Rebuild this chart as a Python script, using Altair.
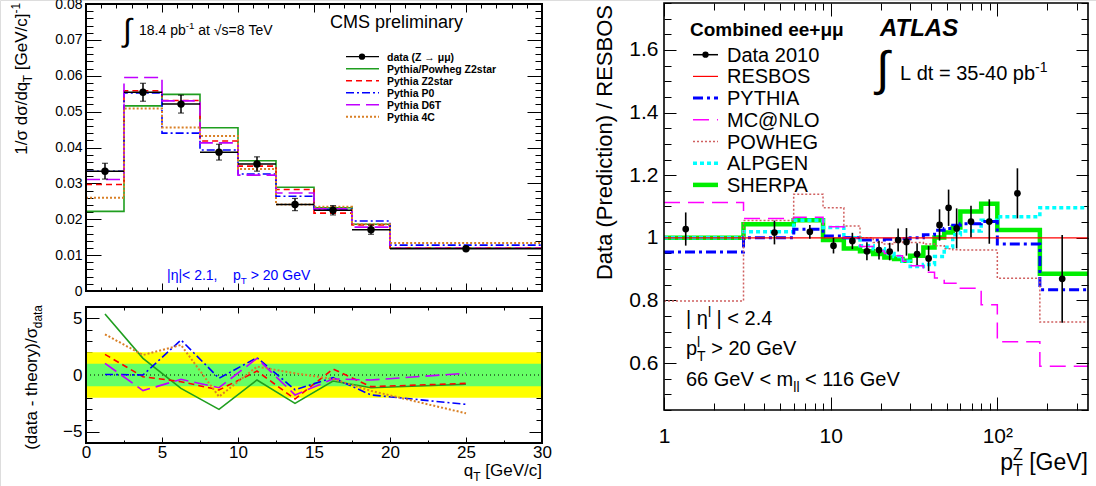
import altair as alt
import pandas as pd

FONT = "Liberation Sans"

# ---------------- CMS (left panels) ----------------
cms_edges = [0, 2.5, 5, 7.5, 10, 12.5, 15, 17.5, 20, 30]
cms_centers = [1.25, 3.75, 6.25, 8.75, 11.25, 13.75, 16.25, 18.75, 25]
cms_data = [0.0334, 0.0554, 0.0521, 0.0387, 0.0354, 0.0241, 0.0225, 0.0171, 0.0118]
cms_err = [0.0022, 0.0025, 0.0025, 0.0022, 0.0020, 0.0017, 0.0013, 0.0013, 0.0004]
cms_powheg_z2 = [0.0222, 0.0516, 0.0548, 0.0455, 0.0363, 0.0289, 0.0232, 0.0186, 0.0120]
cms_z2star = [0.0297, 0.0558, 0.0531, 0.0418, 0.0348, 0.0283, 0.0217, 0.0184, 0.0120]
cms_p0 = [0.0334, 0.0552, 0.0440, 0.0393, 0.0326, 0.0264, 0.0228, 0.0195, 0.0128]
cms_d6t = [0.0311, 0.0595, 0.0530, 0.0413, 0.0323, 0.0273, 0.0229, 0.0178, 0.0119]
cms_4c = [0.0260, 0.0509, 0.0456, 0.0432, 0.0340, 0.0241, 0.0235, 0.0186, 0.0134]

res_powheg_z2 = [5.38, 1.47, -1.18, -3.03, -0.44, -2.50, -0.53, -1.12, -0.82]
res_z2star = [1.82, -0.15, -0.59, -1.32, 0.35, -2.12, 0.53, -1.03, -0.74]
res_p0 = [0.05, 0.0, 3.09, -0.29, 1.53, -1.30, -0.24, -1.76, -2.59]
res_d6t = [1.03, -1.38, -0.38, -1.12, 1.47, -1.76, -0.35, -0.44, 0.15]
res_4c = [3.59, 1.76, 2.65, -1.91, 0.74, 0.15, -0.35, -1.40, -3.38]
band_lo = [-2, -1]
band_hi = [2, 1]

cms_labels = ["data (Z \u2192 \u03bc\u03bc)", "Pythia/Powheg Z2star", "Pythia Z2star",
              "Pythia P0", "Pythia D6T", "Pythia 4C"]

# ---------------- ATLAS (right panel) ----------------
atlas_edges = [1, 3, 6, 9, 12, 15, 18, 21, 24, 27, 30, 36, 42, 48, 54, 60, 80, 100, 180, 350]
atlas_x = [1.35, 4.6, 7.5, 10.4, 13.5, 16.5, 19.5, 22.6, 25.4, 28.5, 33.0, 38.7, 45.0,
           51.0, 57.0, 69.5, 89.5, 132.0, 245.0]
atlas_ratio = [1.028, 1.017, 1.019, 0.975, 0.990, 0.957, 0.961, 0.956, 0.993, 0.987, 0.948,
               0.934, 1.041, 1.096, 1.030, 1.052, 1.052, 1.142, 0.869]
atlas_err = [0.053, 0.038, 0.022, 0.025, 0.026, 0.029, 0.030, 0.028, 0.037, 0.044, 0.035,
             0.040, 0.050, 0.058, 0.064, 0.050, 0.071, 0.080, 0.140]
resbos = [1.0, 1.0, 1.0, 1.0, 1.0, 1.0, 1.0, 1.0, 1.0, 1.0, 1.0, 1.0, 1.0, 1.0, 1.0, 1.0, 1.0, 1.0, 1.0]
pythia = [0.955, 1.0, 1.027, 1.006, 1.0, 0.993, 0.993, 0.995, 0.995, 0.997, 1.0, 1.01, 1.024,
          1.03, 1.04, 1.045, 1.052, 0.98, 0.834]
mcnlo = [1.113, 1.062, 1.066, 1.035, 1.0, 0.972, 0.958, 0.95, 0.943, 0.925, 0.911, 0.89, 0.872,
         0.855, 0.855, 0.839, 0.786, 0.668, 0.59]
powheg = [0.798, 1.055, 1.139, 1.096, 1.038, 1.0, 0.985, 0.98, 0.985, 0.99, 0.985, 0.98, 0.975,
          0.965, 0.962, 0.961, 0.961, 0.871, 0.731]
alpgen = [1.0, 1.019, 1.056, 1.033, 1.0, 0.975, 0.965, 0.95, 0.94, 0.925, 0.908, 0.915, 0.94,
          0.97, 1.01, 1.022, 1.056, 1.067, 1.096]
sherpa = [1.0, 1.043, 1.056, 0.993, 0.966, 0.957, 0.948, 0.937, 0.932, 0.927, 0.943, 0.969,
          1.001, 1.017, 1.033, 1.084, 1.109, 1.025, 0.885]
atlas_labels = ["Data 2010", "RESBOS", "PYTHIA", "MC@NLO", "POWHEG", "ALPGEN", "SHERPA"]

# ---------------- canvas / panel geometry (pixels) ----------------
CWID, CHGT = 1096, 486
TL = (86, 542, 4, 291)     # x0, x1, y0, y1 of the upper CMS plot area
BL = (86, 542, 307, 443)   # lower CMS ratio plot area
RP = (664, 1088, 3, 410)   # ATLAS plot area
NB = "\u00a0"
ONE = pd.DataFrame({"k": [0]})

# approximate Arial / Liberation Sans advance widths (em)
CW = {" ": .278, NB: .278, "!": .278, "(": .333, ")": .333, "+": .584, ",": .278, "-": .333,
      ".": .278, "/": .278, "<": .584, "=": .584, ">": .584, "@": 1.015, "[": .278, "]": .278,
      "|": .26, "A": .667, "B": .667, "C": .722, "D": .722, "E": .667, "G": .778, "H": .722,
      "I": .278, "L": .556, "M": .833, "N": .722, "O": .778, "P": .667, "R": .722, "S": .667,
      "T": .611, "V": .667, "Y": .667, "Z": .611, "a": .556, "b": .556, "c": .5, "d": .556,
      "e": .556, "f": .278, "g": .556, "h": .556, "i": .222, "l": .222, "m": .833, "n": .556,
      "o": .556, "p": .556, "q": .556, "r": .333, "s": .5, "t": .278, "u": .556, "v": .5,
      "y": .5, "\u03c3": .6, "\u03b7": .556, "\u03bc": .576, "\u221a": .55, "\u2192": 1.0}


def tw(s, size, bold=False):
    w = sum(CW.get(ch, 0.556) for ch in s) * size
    return w * 1.08 if bold else w


def text_layer(txt, x, y, size, color="black", weight="normal", style="normal",
               dx=0.0, dy=0.0, angle=0, align="left"):
    kw = dict(text=txt, fontSize=size, color=color, fontWeight=weight, fontStyle=style,
              dx=dx, dy=dy, align=align, baseline="alphabetic", font=FONT)
    if angle:
        kw["angle"] = angle
    return alt.Chart(ONE).mark_text(**kw).encode(x=alt.value(x), y=alt.value(y))


def rich(pieces, x, y, size, align="left", angle=0, color="black", weight="normal"):
    """Text pieces with super/subscripts; leading blanks become offsets."""
    small = size * 0.7
    bold = weight == "bold"
    items, adv = [], 0.0
    for txt, kind in pieces:
        if kind == "ss":
            sp, sb = txt
            items.append((sp, adv, -0.42 * size, small))
            items.append((sb, adv, 0.28 * size, small))
            adv += max(tw(sp, small, bold), tw(sb, small, bold))
            continue
        fs = size if kind == "n" else small
        shift = 0.0 if kind == "n" else (-0.42 * size if kind == "sup" else 0.28 * size)
        stripped = txt.lstrip(" ")
        adv += tw(" " * (len(txt) - len(stripped)), fs, bold)
        t = stripped.replace(" ", NB)
        items.append((t, adv, shift, fs))
        adv += tw(t, fs, bold)
    off = -adv if align == "right" else 0.0
    return [text_layer(t, x, y, s, color=color, weight=weight, dx=a + off, dy=d, angle=angle)
            for (t, a, d, s) in items]


# ---- axes placed at absolute pixel edges through their offsets ----
def _axis(orient, offset, **kw):
    base = dict(orient=orient, offset=offset, domain=False, grid=False, title=None,
                minExtent=0)
    base.update(kw)
    return alt.Axis(**base)


def lab_axis(orient, edge, values, size, pad, expr=None):
    off = -edge if orient == "left" else edge - CHGT
    kw = dict(values=values, ticks=False, labels=True, labelFontSize=size, labelPadding=pad,
              labelColor="black", labelFont=FONT, labelOverlap=False, labelFlush=False)
    if expr:
        kw["labelExpr"] = expr
    return _axis(orient, off, **kw)


def blank_axis(orient):
    return _axis(orient, 0, ticks=False, labels=False, maxExtent=0)


def in_ticks(edge_name, edge, values, size):
    # axis drawn on the opposite orientation so that its ticks point into the plot
    orient, off = {"left": ("right", edge - CWID), "right": ("left", -edge),
                   "top": ("bottom", edge - CHGT), "bottom": ("top", -edge)}[edge_name]
    return _axis(orient, off, values=values, labels=False, ticks=True, tickSize=size,
                 tickColor="black", tickWidth=1, maxExtent=0)


def axis_layer(xs, ys, xv, yv, xaxis, yaxis):
    d = pd.DataFrame({"ax": [xv], "ay": [yv]})
    return alt.Chart(d).mark_point(opacity=0).encode(
        x=alt.X("ax:Q", scale=xs, axis=xaxis), y=alt.Y("ay:Q", scale=ys, axis=yaxis))


def frame_layers(xs, ys, xv, yv, box, xmaj, xmin, ymaj, ymin, txm, txn, tym, tyn, xdom, ydom, sw):
    x0, x1, y0, y1 = box
    fr = pd.DataFrame({"a": [xdom[0]], "b": [xdom[1]], "c": [ydom[0]], "d": [ydom[1]]})
    return [
        axis_layer(xs, ys, xv, yv, in_ticks("bottom", y1, xmaj, txm), in_ticks("left", x0, ymaj, tym)),
        axis_layer(xs, ys, xv, yv, in_ticks("bottom", y1, xmin, txn), in_ticks("left", x0, ymin, tyn)),
        axis_layer(xs, ys, xv, yv, in_ticks("top", y0, xmaj, txm), in_ticks("right", x1, ymaj, tym)),
        axis_layer(xs, ys, xv, yv, in_ticks("top", y0, xmin, txn), in_ticks("right", x1, ymin, tyn)),
        alt.Chart(fr).mark_rect(fillOpacity=0, stroke="black", strokeWidth=sw).encode(
            x=alt.X("a:Q", scale=xs, axis=None), x2="b:Q",
            y=alt.Y("c:Q", scale=ys, axis=None), y2="d:Q"),
    ]


def step_line(edges, vals, xs, ys, color, width, dash=None):
    df = pd.DataFrame({"x": edges, "y": list(vals) + [vals[-1]]})
    kw = dict(interpolate="step-after", color=color, strokeWidth=width)
    if dash:
        kw["strokeDash"] = dash
    return alt.Chart(df).mark_line(**kw).encode(
        x=alt.X("x:Q", scale=xs, axis=None), y=alt.Y("y:Q", scale=ys, axis=None))


def swatch(x1, x2, y, color, width, dash=None):
    kw = dict(color=color, strokeWidth=width)
    if dash:
        kw["strokeDash"] = dash
    return alt.Chart(ONE).mark_rule(**kw).encode(x=alt.value(x1), x2=alt.value(x2), y=alt.value(y))


def dot(x, y, size):
    return alt.Chart(ONE).mark_point(filled=True, size=size, color="black", opacity=1,
                                     shape="circle").encode(x=alt.value(x), y=alt.value(y))


layers = []

# ================= UPPER CMS PANEL =================
xsL = alt.Scale(domain=[0, 30], range=[TL[0], TL[1]], nice=False, zero=False)
ysT = alt.Scale(domain=[0, 0.08], range=[TL[3], TL[2]], nice=False, zero=False)
ysB = alt.Scale(domain=[-6, 6], range=[BL[3], BL[2]], nice=False, zero=False)

xmaj = [0, 5, 10, 15, 20, 25, 30]
xmin1 = list(range(0, 31))
ymajT = [round(0.01 * i, 2) for i in range(9)]
yminT = [round(0.002 * i, 3) for i in range(41)]

layers.append(axis_layer(xsL, ysT, 15, 0.04, blank_axis("bottom"),
                         lab_axis("left", TL[0], ymajT, 14, 4,
                                  expr="datum.value == 0 ? '0' : format(datum.value, '.2f')")))

cms_series = [
    (cms_powheg_z2, res_powheg_z2, "#1f9e1f", 1.6, None),
    (cms_z2star, res_z2star, "#ff0000", 1.6, [6, 4]),
    (cms_p0, res_p0, "#0000ff", 1.6, [8, 3, 2, 3]),
    (cms_d6t, res_d6t, "#c000ff", 1.6, [14, 6]),
    (cms_4c, res_4c, "#d98026", 2.0, [2, 2]),
]
for vals, _, c, w, d in cms_series:
    layers.append(step_line(cms_edges, vals, xsL, ysT, c, w, d))

dfc = pd.DataFrame({"lo": cms_edges[:-1], "hi": cms_edges[1:], "c": cms_centers,
                    "y": cms_data,
                    "ylo": [v - e for v, e in zip(cms_data, cms_err)],
                    "yhi": [v + e for v, e in zip(cms_data, cms_err)]})
base_c = alt.Chart(dfc)
layers += [
    base_c.mark_rule(color="black", strokeWidth=1.5).encode(
        x=alt.X("lo:Q", scale=xsL, axis=None), x2="hi:Q", y=alt.Y("y:Q", scale=ysT, axis=None)),
    base_c.mark_rule(color="black", strokeWidth=1.5).encode(
        x=alt.X("c:Q", scale=xsL, axis=None), y=alt.Y("ylo:Q", scale=ysT, axis=None), y2="yhi:Q"),
    base_c.mark_tick(orient="horizontal", size=6, thickness=1.2, color="black").encode(
        x=alt.X("c:Q", scale=xsL, axis=None), y=alt.Y("ylo:Q", scale=ysT, axis=None)),
    base_c.mark_tick(orient="horizontal", size=6, thickness=1.2, color="black").encode(
        x=alt.X("c:Q", scale=xsL, axis=None), y=alt.Y("yhi:Q", scale=ysT, axis=None)),
    base_c.mark_point(filled=True, size=55, color="black", opacity=1, shape="circle").encode(
        x=alt.X("c:Q", scale=xsL, axis=None), y=alt.Y("y:Q", scale=ysT, axis=None)),
]
layers += frame_layers(xsL, ysT, 15, 0.04, TL, xmaj, xmin1, ymajT, yminT, 8, 4, 15, 7,
                       [0, 30], [0, 0.08], 2)

layers.append(text_layer("\u222b", 123, 41, 32))
layers += rich([("18.4 pb", "n"), ("-1", "sup"), (" at \u221as=8 TeV", "n")], 139, 35, 14)
layers.append(text_layer("CMS preliminary", 330, 28, 18))
layers += rich([("|\u03b7|< 2.1,    p", "n"), ("T", "sub"), (" > 20 GeV", "n")], 167, 280, 14,
               color="#0000ff")
layers += rich([("1/\u03c3 d\u03c3/dq", "n"), ("T", "sub"), (" [GeV/c]", "n"), ("-1", "sup")],
               27, 3, 17, align="right", angle=270)
leg_y0, leg_dy = 56.7, 12.0
layers.append(swatch(346, 379, leg_y0, "black", 1.3))
layers.append(dot(362, leg_y0, 40))
for i, (vals, _, c, w, d) in enumerate(cms_series):
    layers.append(swatch(346, 379, leg_y0 + leg_dy * (i + 1), c, w, d))
for i, lab in enumerate(cms_labels):
    layers.append(text_layer(lab, 387, leg_y0 + leg_dy * i + 3.8, 10.5, weight="bold"))

# ================= LOWER CMS PANEL =================
xmin25 = [2.5 * i for i in range(13)]
ymajB = [-5, 0, 5]
yminB = list(range(-6, 7))
dfb = pd.DataFrame({"lo": band_lo, "hi": band_hi, "x0": [0, 0], "x1": [30, 30]})
layers += [
    alt.Chart(dfb.iloc[[0]]).mark_rect(color="#ffff00", opacity=1).encode(
        x=alt.X("x0:Q", scale=xsL, axis=None), x2="x1:Q",
        y=alt.Y("lo:Q", scale=ysB, axis=None), y2="hi:Q"),
    alt.Chart(dfb.iloc[[1]]).mark_rect(color="#66ff66", opacity=1).encode(
        x=alt.X("x0:Q", scale=xsL, axis=None), x2="x1:Q",
        y=alt.Y("lo:Q", scale=ysB, axis=None), y2="hi:Q"),
    axis_layer(xsL, ysB, 15, 0, lab_axis("bottom", BL[3], xmaj, 17, 1),
               lab_axis("left", BL[0], ymajB, 17, 4)),
]
dz = pd.DataFrame({"x0": [0], "x1": [30], "z": [0]})
layers.append(alt.Chart(dz).mark_rule(color="black", strokeWidth=1.2, strokeDash=[1, 3]).encode(
    x=alt.X("x0:Q", scale=xsL, axis=None), x2="x1:Q", y=alt.Y("z:Q", scale=ysB, axis=None)))
for _, res, c, w, d in cms_series:
    kw = dict(color=c, strokeWidth=w)
    if d:
        kw["strokeDash"] = d
    layers.append(alt.Chart(pd.DataFrame({"x": cms_centers, "y": res})).mark_line(**kw).encode(
        x=alt.X("x:Q", scale=xsL, axis=None), y=alt.Y("y:Q", scale=ysB, axis=None)))
layers += frame_layers(xsL, ysB, 15, 0, BL, xmaj, xmin25, ymajB, yminB, 6, 3, 13, 6,
                       [0, 30], [-6, 6], 2)
layers += rich([("(data - theory)/\u03c3", "n"), ("data", "sub")], 37, 305, 17,
               align="right", angle=270)
layers += rich([("q", "n"), ("T", "sub"), (" [GeV/c]", "n")], 542, 476, 17, align="right")

# ================= ATLAS PANEL =================
xsR = alt.Scale(type="log", domain=[1, 350], range=[RP[0], RP[1]], nice=False)
ysR = alt.Scale(domain=[0.45, 1.75], range=[RP[3], RP[2]], nice=False, zero=False)
xmajR = [1, 10, 100]
xminR = [2, 3, 4, 5, 6, 7, 8, 9, 20, 30, 40, 50, 60, 70, 80, 90, 200, 300]
ymajR = [0.6, 0.8, 1.0, 1.2, 1.4, 1.6]
yminR = [round(0.45 + 0.05 * i, 2) for i in range(27)]

layers.append(axis_layer(
    xsR, ysR, 10, 1.0,
    lab_axis("bottom", RP[3], xmajR, 21, 15,
             expr="datum.value >= 100 ? '10\u00b2' : format(datum.value, 'd')"),
    lab_axis("left", RP[0], ymajR, 21, 6,
             expr="datum.value == 1 ? '1' : format(datum.value, '.1f')")))
atlas_series = [
    (sherpa, "#00ee00", 4.5, None, 6),
    (alpgen, "#00ffff", 3.5, [4, 3], 5),
    (pythia, "#0000ff", 3.0, [10, 4, 3, 4], 2),
    (mcnlo, "#ff00ff", 1.5, [16, 8], 3),
    (powheg, "#d06060", 1.5, [2, 2], 4),
    (resbos, "#ff0000", 1.2, None, 1),
]
for vals, c, w, d, _ in atlas_series:
    layers.append(step_line(atlas_edges, vals, xsR, ysR, c, w, d))

dfa = pd.DataFrame({"x": atlas_x, "y": atlas_ratio,
                    "ylo": [v - e for v, e in zip(atlas_ratio, atlas_err)],
                    "yhi": [v + e for v, e in zip(atlas_ratio, atlas_err)]})
layers += [
    alt.Chart(dfa).mark_rule(color="black", strokeWidth=1.6).encode(
        x=alt.X("x:Q", scale=xsR, axis=None), y=alt.Y("ylo:Q", scale=ysR, axis=None), y2="yhi:Q"),
    alt.Chart(dfa).mark_point(filled=True, size=45, color="black", opacity=1, shape="circle").encode(
        x=alt.X("x:Q", scale=xsR, axis=None), y=alt.Y("y:Q", scale=ysR, axis=None)),
]
layers += frame_layers(xsR, ysR, 10, 1.0, RP, xmajR, xminR, ymajR, yminR, 13, 7, 12, 7,
                       [1, 350], [0.45, 1.75], 1.6)

layers.append(text_layer("Combined ee+\u03bc\u03bc", 690, 36, 19, weight="bold"))
layers.append(text_layer("ATLAS", 880, 36, 24, weight="bold", style="italic"))
layers.append(text_layer("\u222b", 876, 85, 48))
layers += rich([("L dt = 35-40 pb", "n"), ("-1", "sup")], 900, 80, 20)
layers += rich([("| \u03b7", "n"), ("l", "sup"), (" | < 2.4", "n")], 686, 325, 20)
layers += rich([("p", "n"), (("l", "T"), "ss"), (" > 20 GeV", "n")], 686, 355, 20)
layers += rich([("66 GeV < m", "n"), ("ll", "sub"), (" < 116 GeV", "n")], 686, 386, 20)
layers.append(text_layer("Data (Prediction) / RESBOS", 612, 5, 22, angle=270, align="right"))
layers += rich([("p", "n"), (("Z", "T"), "ss"), (" [GeV]", "n")], 1088, 470, 23, align="right")
ly0, ldy = 61.7, 21.7
layers.append(swatch(693, 718, ly0 - 7, "black", 1.5))
layers.append(dot(705.5, ly0 - 7, 40))
for vals, c, w, d, row in atlas_series:
    layers.append(swatch(693, 718, ly0 + ldy * row - 7, c, w, d))
for i, lab in enumerate(atlas_labels):
    layers.append(text_layer(lab, 727, ly0 + ldy * i, 20))

chart = alt.layer(*layers).resolve_scale(x="independent", y="independent").resolve_axis(
    x="independent", y="independent"
).properties(
    width=CWID, height=CHGT, autosize=alt.AutoSizeParams(type="none"), padding=0,
    background="white"
).configure_view(stroke="transparent").configure(font=FONT)

chart.save("out.html", embed_options={"renderer": "svg", "actions": False})
